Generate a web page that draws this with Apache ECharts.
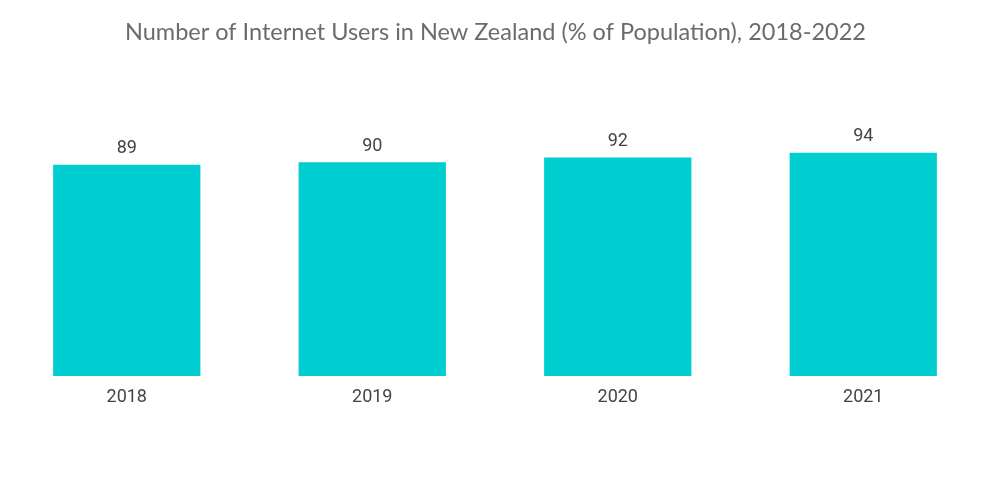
<!DOCTYPE html>
<html>
<head>
<meta charset="utf-8">
<script src="https://cdn.jsdelivr.net/npm/echarts@6/dist/echarts.min.js"></script>
<style>
  html, body { margin: 0; padding: 0; background: #fff; }
  #chart { width: 1000px; height: 504px; }
</style>
</head>
<body>
<div id="chart"></div>
<script>
const years = ["2018", "2019", "2020", "2021"];
const users = [89, 90, 92, 94];

const chart = echarts.init(document.getElementById("chart"));

chart.setOption({
  backgroundColor: "#ffffff",
  title: {
    text: "Number of Internet Users in New Zealand (% of Population), 2018-2022",
    left: 120,
    top: 15,
    textStyle: {
      fontFamily: "Lato",
      fontWeight: "normal",
      fontSize: 23.5,
      color: "#6b6b6b",
    },
  },
  grid: {
    left: 4,
    right: 14,
    top: 138.5,
    bottom: 128,
  },
  xAxis: {
    type: "category",
    data: years,
    axisLine: { show: false },
    axisTick: { show: false },
    axisLabel: {
      margin: 12,
      fontFamily: "Roboto",
      fontSize: 18,
      color: "#444",
    },
  },
  yAxis: {
    type: "value",
    min: 0,
    max: 100,
    show: false,
  },
  series: [
    {
      type: "bar",
      data: users,
      barWidth: "60%",
      itemStyle: { color: "#00ced1" },
      label: {
        show: true,
        position: "top",
        distance: 7,
        fontFamily: "Roboto",
        fontSize: 18,
        color: "#444",
      },
    },
  ],
});
</script>
</body>
</html>
